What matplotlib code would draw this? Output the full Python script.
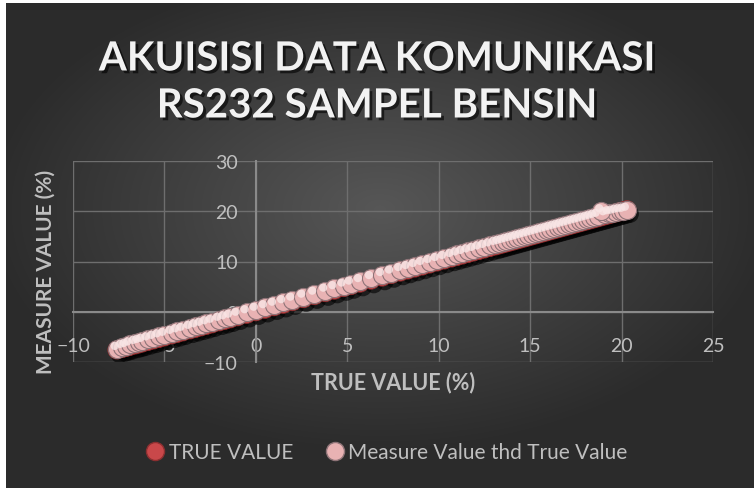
import numpy as np
import matplotlib
matplotlib.use("Agg")
import matplotlib.pyplot as plt
import matplotlib.patheffects as pe
from matplotlib.lines import Line2D

# data (percent)
true_value = [-7.6, -7.3, -7.1, -6.9, -6.6, -6.4, -6.2, -5.9, -5.6, -5.3,
              -5.0, -4.6, -4.3, -4.0, -3.6, -3.3, -3.0, -2.7, -2.4, -2.0,
              -1.7, -1.4, -1.0, -0.5, 0.0, 0.5, 1.0, 1.5, 2.0, 2.6,
              3.2, 3.8, 4.3, 4.8, 5.2, 5.7, 6.3, 6.9, 7.4, 7.9,
              8.3, 8.7, 9.1, 9.5, 9.9, 10.3, 10.7, 11.0, 11.3, 11.6,
              11.9, 12.2, 12.5, 12.8, 13.1, 13.3, 13.5, 13.7, 13.9, 14.1,
              14.3, 14.5, 14.7, 14.9, 15.1, 15.3, 15.5, 15.7, 15.9, 16.1,
              16.3, 16.5, 16.7, 16.9, 17.1, 17.3, 17.5, 17.7, 17.9, 18.1,
              18.3, 18.5, 18.7, 19.1, 19.3, 19.5, 19.7, 19.9, 20.1, 18.9, 20.3]
measure_value = [-7.4, -7.0, -6.8, -6.5, -6.2, -6.0, -5.8, -5.5, -5.2, -4.9,
                 -4.6, -4.2, -3.9, -3.6, -3.2, -2.9, -2.6, -2.3, -2.0, -1.6,
                 -1.3, -1.0, -0.6, -0.1, 0.4, 0.9, 1.4, 1.9, 2.4, 3.0,
                 3.6, 4.2, 4.7, 5.2, 5.6, 6.1, 6.7, 7.3, 7.8, 8.3,
                 8.7, 9.1, 9.5, 9.9, 10.3, 10.7, 11.1, 11.4, 11.7, 12.0,
                 12.3, 12.6, 12.9, 13.2, 13.5, 13.7, 13.9, 14.1, 14.3, 14.5,
                 14.7, 14.9, 15.1, 15.3, 15.5, 15.7, 15.9, 16.1, 16.3, 16.5,
                 16.7, 16.9, 17.1, 17.3, 17.5, 17.7, 17.9, 18.1, 18.3, 18.5,
                 18.7, 18.9, 19.1, 19.4, 19.6, 19.7, 19.9, 20.0, 20.1, 20.0, 20.3]
x_ticks = [-10, -5, 0, 5, 10, 15, 20, 25]
y_ticks = [-10, 0, 10, 20, 30]

plt.rcParams['font.family'] = ['Lato', 'DejaVu Sans']

fig = plt.figure(figsize=(7.54, 4.89), dpi=100)
fig.patch.set_facecolor('white')

# radial gradient background
bg = fig.add_axes([6 / 754, 0, 748 / 754, 485 / 489])
gx, gy = np.meshgrid(np.linspace(-1, 1, 300), np.linspace(-1, 1, 200))
r = np.sqrt((gx * 0.95) ** 2 + ((gy + 0.15) * 1.0) ** 2)
shade = np.clip(0.34 - 0.17 * r, 0.17, 0.34)
bg.imshow(np.dstack([shade] * 3), aspect='auto', extent=[0, 1, 0, 1],
          interpolation='bilinear')
bg.axis('off')

ax = fig.add_axes([73 / 754, 126 / 489, 640 / 754, 201 / 489])
ax.set_facecolor('none')
ax.set_xlim(-10, 25)
ax.set_ylim(-10, 30)
ax.set_xticks(x_ticks)
ax.set_yticks(y_ticks)
ax.grid(True, color='#6e6e6e', linewidth=1.0)
ax.set_axisbelow(True)

for s in ['top', 'right']:
    ax.spines[s].set_visible(False)
ax.spines['bottom'].set_position(('data', 0))
ax.spines['left'].set_position(('data', 0))
ax.spines['bottom'].set_color('#8a8a8a')
ax.spines['left'].set_color('#8a8a8a')
ax.spines['bottom'].set_linewidth(1.5)
ax.spines['left'].set_linewidth(1.5)
ax.tick_params(length=0, colors='#bfbfbf', labelsize=14)
ax.tick_params(axis='x', pad=18)
ax.tick_params(axis='y', pad=13)

shadow = [pe.SimplePatchShadow(offset=(2, -3), shadow_rgbFace='black', alpha=0.6), pe.Normal()]
ax.scatter(true_value, true_value, s=170, color='#c9484a', edgecolor='#8c2f30',
           linewidths=0.6, zorder=3, path_effects=shadow)
ax.scatter(true_value, measure_value, s=170, color='#e8b2b3', edgecolor='#8f7478',
           linewidths=0.8, zorder=4)
ax.scatter(np.array(true_value) - 0.12, np.array(measure_value) + 0.6, s=35,
           color='#f9e6e6', edgecolor='none', alpha=0.8, zorder=5)

fig.text(0.5 * (73 + 713) / 754, 1 - 383 / 489, 'TRUE VALUE (%)', ha='center', va='center',
         fontsize=15.5, fontweight='bold', color='#bfbfbf')
fig.text(46 / 754, 1 - 272 / 489, 'MEASURE VALUE (%)', ha='center', va='center',
         rotation=90, fontsize=15, fontweight='bold', color='#bfbfbf')

title_fx = [pe.withSimplePatchShadow(offset=(2, -2), shadow_rgbFace='black', alpha=0.6)]
fig.text(377 / 754, 1 - 60 / 489, 'AKUISISI DATA KOMUNIKASI', ha='center', va='center',
         fontsize=29, fontweight='bold', color='#f2f2f2', path_effects=title_fx)
fig.text(377 / 754, 1 - 107 / 489, 'RS232 SAMPEL BENSIN', ha='center', va='center',
         fontsize=29, fontweight='bold', color='#f2f2f2', path_effects=title_fx)

handles = [
    Line2D([], [], marker='o', linestyle='none', markersize=13, markerfacecolor='#c9484a',
           markeredgecolor='#8c2f30', label='TRUE VALUE'),
    Line2D([], [], marker='o', linestyle='none', markersize=13, markerfacecolor='#e8b2b3',
           markeredgecolor='#8f7478', label='Measure Value thd True Value'),
]
fig.legend(handles=handles, loc='center', bbox_to_anchor=(386 / 754, 1 - 453 / 489),
           ncol=2, frameon=False, fontsize=15, labelcolor='#bfbfbf',
           handlelength=1.0, handletextpad=0.15, columnspacing=1.5)

fig.savefig('out.png', dpi=100)
